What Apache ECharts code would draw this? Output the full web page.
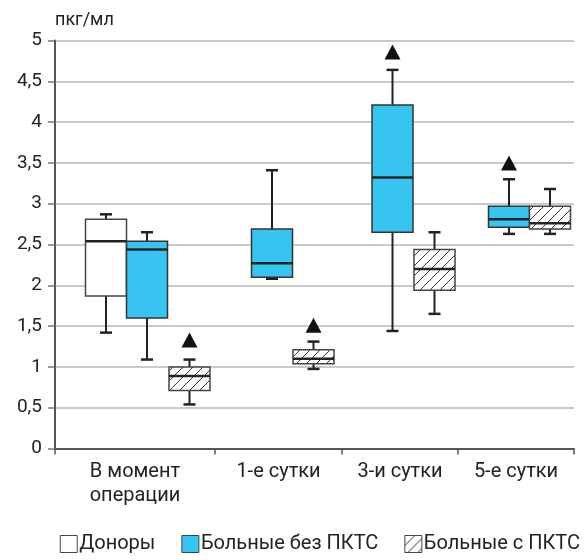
<!DOCTYPE html>
<html><head><meta charset="utf-8">
<script src="https://cdn.jsdelivr.net/npm/echarts@6/dist/echarts.min.js"></script>
<style>html,body{margin:0;padding:0;background:#fff}#c{width:587px;height:560px}</style>
</head><body><div id="c"></div>
<script>
// ---- data ----
const categories = ['В момент\nоперации', '1-е сутки', '3-и сутки', '5-е сутки'];
const seriesNames = ['Доноры', 'Больные без ПКТС', 'Больные с ПКТС'];
// [min, Q1, median, Q3, max] per category (null = absent)
const donors   = [[1.42, 1.87, 2.54, 2.81, 2.87], null, null, null];
const noPKTS   = [[1.09, 1.60, 2.44, 2.54, 2.65], [2.08, 2.10, 2.27, 2.69, 3.41], [1.44, 2.65, 3.32, 4.21, 4.64], [2.63, 2.71, 2.81, 2.97, 3.30]];
const withPKTS = [[0.54, 0.71, 0.89, 1.00, 1.09], [0.975, 1.04, 1.10, 1.21, 1.31], [1.65, 1.94, 2.20, 2.44, 2.65], [2.63, 2.69, 2.76, 2.97, 3.18]];
// significance markers (triangles): [categoryIndex, seriesIndex, value]
const markers = [[0, 2, 1.33], [1, 2, 1.51], [2, 1, 4.86], [3, 1, 3.50]];
const yTicks = [0, 0.5, 1, 1.5, 2, 2.5, 3, 3.5, 4, 4.5, 5];

// ---- layout (not data) ----
const groupBounds = [0, 160, 287, 403, 519];
const slotX = [
  [51, null, null, null],
  [92, 217, 337.5, 454],
  [134.5, 258.5, 379.5, 495]
];
const BOX_W = 41;
const BLUE = '#38c4f0';

const hatch = document.createElement('canvas');
hatch.width = 10; hatch.height = 10;
(function(){
  const g = hatch.getContext('2d');
  g.fillStyle = '#fff'; g.fillRect(0,0,10,10);
  g.strokeStyle = '#333'; g.lineWidth = 1;
  g.beginPath();
  g.moveTo(-1, 11); g.lineTo(11, -1);
  g.moveTo(-1, 1); g.lineTo(1, -1);
  g.moveTo(9, 11); g.lineTo(11, 9);
  g.stroke();
})();
const hatchPattern = { image: hatch, repeat: 'repeat' };

const fills = ['#ffffff', BLUE, hatchPattern];
const borders = ['#444', '#333', '#444'];
const allData = [donors, noPKTS, withPKTS];

const labelCenters = categories.map((c, i) => (groupBounds[i] + groupBounds[i + 1]) / 2);

function renderBox(sIdx) {
  return function (params, api) {
    const x = api.value(0);
    const lo = api.value(1), q1 = api.value(2), md = api.value(3), q3 = api.value(4), hi = api.value(5);
    const hw = api.size([BOX_W / 2, 0])[0];
    const cx = api.coord([x, 0])[0];
    const yLo = api.coord([x, lo])[1], yQ1 = api.coord([x, q1])[1], yMd = api.coord([x, md])[1];
    const yQ3 = api.coord([x, q3])[1], yHi = api.coord([x, hi])[1];
    const capW = 6;
    const wStyle = { stroke: '#222', lineWidth: 2 };
    const cStyle = { stroke: '#222', lineWidth: 2.5 };
    return {
      type: 'group',
      children: [
        { type: 'line', shape: { x1: cx, y1: yQ3, x2: cx, y2: yHi }, style: wStyle },
        { type: 'line', shape: { x1: cx, y1: yQ1, x2: cx, y2: yLo }, style: wStyle },
        { type: 'line', shape: { x1: cx - capW, y1: yHi, x2: cx + capW, y2: yHi }, style: cStyle },
        { type: 'line', shape: { x1: cx - capW, y1: yLo, x2: cx + capW, y2: yLo }, style: cStyle },
        { type: 'rect', shape: { x: cx - hw, y: yQ3, width: 2 * hw, height: yQ1 - yQ3 },
          style: { fill: fills[sIdx], stroke: borders[sIdx], lineWidth: 1.5 } },
        { type: 'line', shape: { x1: cx - hw, y1: yMd, x2: cx + hw, y2: yMd }, style: { stroke: '#222', lineWidth: 2.5 } }
      ]
    };
  };
}

const series = seriesNames.map((name, s) => ({
  name: name,
  type: 'custom',
  renderItem: renderBox(s),
  itemStyle: { color: fills[s], borderColor: borders[s], borderWidth: 1 },
  encode: { x: 0, y: [1, 2, 3, 4, 5] },
  data: allData[s].map((d, i) => d ? [slotX[s][i]].concat(d) : null).filter(Boolean),
  z: 3
}));

series.push({
  name: 'markers',
  type: 'scatter',
  symbol: 'triangle',
  symbolSize: [16, 15],
  itemStyle: { color: '#111', opacity: 1 },
  data: markers.map(m => [slotX[m[1]][m[0]], m[2]]),
  z: 4,
  silent: true
});

const chart = echarts.init(document.getElementById('c'), null, { renderer: 'canvas' });
const FONT = 'Roboto';
chart.setOption({
  animation: false,
  textStyle: { fontFamily: FONT },
  grid: { left: 55, right: 13, top: 40.5, bottom: 111.5, containLabel: false },
  xAxis: {
    type: 'value', min: groupBounds[0], max: groupBounds[groupBounds.length - 1],
    splitLine: { show: false },
    axisLine: { show: true, lineStyle: { color: '#555', width: 2 } },
    axisTick: { show: true, length: 6, lineStyle: { color: '#555', width: 1.5 }, customValues: groupBounds },
    axisLabel: {
      show: true, customValues: labelCenters, margin: 11,
      color: '#222', fontSize: 20, lineHeight: 24, fontFamily: FONT,
      formatter: function (v) {
        const i = labelCenters.findIndex(c => Math.abs(c - v) < 0.01);
        return i >= 0 ? categories[i] : '';
      }
    }
  },
  yAxis: {
    type: 'value', min: 0, max: 5, interval: 0.5,
    name: 'пкг/мл', nameLocation: 'end', nameGap: 11,
    nameTextStyle: { color: '#222', fontSize: 18, align: 'left', fontFamily: FONT },
    axisLine: { show: true, lineStyle: { color: '#555', width: 2 } },
    axisTick: { show: true, length: 7, lineStyle: { color: '#777', width: 1.5 } },
    axisLabel: {
      color: '#222', fontSize: 19, margin: 13, fontFamily: FONT,
      customValues: yTicks,
      formatter: v => String(v).replace('.', ',')
    },
    splitLine: { show: true, lineStyle: { color: '#b8b8b8', width: 1.5 } }
  },
  legend: {
    data: seriesNames.map((n, s) => ({ name: n, icon: 'rect',
      itemStyle: { color: fills[s], borderColor: '#444', borderWidth: 1 } })),
    right: 2, bottom: 1, itemWidth: 17, itemHeight: 17, itemGap: 26,
    textStyle: { color: '#222', fontSize: 20, fontFamily: FONT, padding: [0, 0, 0, -3] }
  },
  series: series
});
</script></body></html>
